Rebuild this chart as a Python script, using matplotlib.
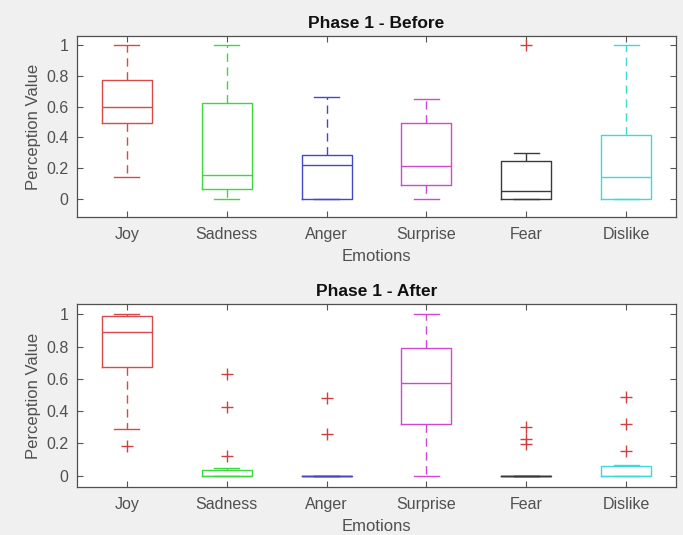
import matplotlib.pyplot as plt

plt.rcParams['font.family'] = ['Liberation Sans', 'DejaVu Sans']

emociones = ["Joy", "Sadness", "Anger", "Surprise", "Fear", "Dislike"]
cores = ["#d84a4a", "#3ed83e", "#4646c8", "#d048d0", "#3a3a3a", "#3edada"]

# Fase 1 - antes: quartis, mediana, bigodes e outliers de cada emoção
antes_q1 = [0.49, 0.063, 0.0, 0.091, 0.0, 0.0]
antes_med = [0.60, 0.156, 0.221, 0.214, 0.052, 0.141]
antes_q3 = [0.773, 0.621, 0.286, 0.491, 0.247, 0.416]
antes_bmin = [0.145, 0.0, 0.0, 0.0, 0.0, 0.0]
antes_bmax = [1.0, 1.0, 0.662, 0.647, 0.297, 1.0]
antes_out = [[], [], [], [], [1.0], []]

# Fase 1 - depois
depois_q1 = [0.675, 0.0, 0.0, 0.323, 0.0, 0.0]
depois_med = [0.892, 0.0, 0.0, 0.577, 0.0, 0.0]
depois_q3 = [0.99, 0.037, 0.0, 0.792, 0.0, 0.058]
depois_bmin = [0.29, 0.0, 0.0, 0.0, 0.0, 0.0]
depois_bmax = [1.0, 0.05, 0.0, 1.0, 0.0, 0.067]
depois_out = [[0.185], [0.631, 0.423, 0.125], [0.483, 0.26], [], [0.302, 0.23, 0.194],
              [0.49, 0.323, 0.156]]


def desenhar_fase(ax, q1, med, q3, bmin, bmax, outs, titulo, ylim):
    # Monta as estatísticas de cada caixa para o bxp
    stats = []
    for i in range(len(emociones)):
        stats.append({"q1": q1[i], "med": med[i], "q3": q3[i],
                      "whislo": bmin[i], "whishi": bmax[i], "fliers": outs[i]})
    for i, st in enumerate(stats):
        c = cores[i]
        ax.bxp([st], positions=[i + 1], widths=0.5, showfliers=True,
               boxprops=dict(color=c, linewidth=1.0),
               medianprops=dict(color=c, linewidth=1.0),
               whiskerprops=dict(color=c, linewidth=1.0, linestyle=(0, (6, 4))),
               capprops=dict(color=c, linewidth=1.0),
               capwidths=0.25,
               flierprops=dict(marker="+", markeredgecolor="#d04040",
                               markersize=9, markeredgewidth=1.0, linestyle="none"))
    ax.set_xlim(0.5, 6.5)
    ax.set_ylim(*ylim)
    ax.set_xticks(range(1, 7))
    ax.set_xticklabels(emociones)
    ax.set_yticks([0, 0.2, 0.4, 0.6, 0.8, 1])
    ax.set_yticklabels(["0", "0.2", "0.4", "0.6", "0.8", "1"])
    ax.tick_params(direction="in", top=True, right=True, length=4,
                   labelsize=11.5, colors="#555555", labelcolor="#505050")
    ax.tick_params(axis="y", pad=6)
    ax.tick_params(axis="x", pad=7)
    for s in ax.spines.values():
        s.set_color("#505050")
        s.set_linewidth(0.9)
    ax.set_title(titulo, fontsize=12.5, fontweight="bold", color="#111111", pad=6)
    ax.set_xlabel("Emotions", fontsize=12, color="#505050", labelpad=5)
    ax.set_ylabel("Perception Value", fontsize=12, color="#505050", labelpad=4)


fig = plt.figure(figsize=(6.83, 5.35), dpi=100, facecolor="#f0f0f0")
ax1 = fig.add_axes([0.1127, 0.5944, 0.877, 0.3383])
ax2 = fig.add_axes([0.1127, 0.0897, 0.877, 0.342])

desenhar_fase(ax1, antes_q1, antes_med, antes_q3, antes_bmin, antes_bmax, antes_out,
              "Phase 1 - Before", (-0.117, 1.058))
desenhar_fase(ax2, depois_q1, depois_med, depois_q3, depois_bmin, depois_bmax, depois_out,
              "Phase 1 - After", (-0.07, 1.064))

fig.savefig("out.png", dpi=100, facecolor=fig.get_facecolor())
